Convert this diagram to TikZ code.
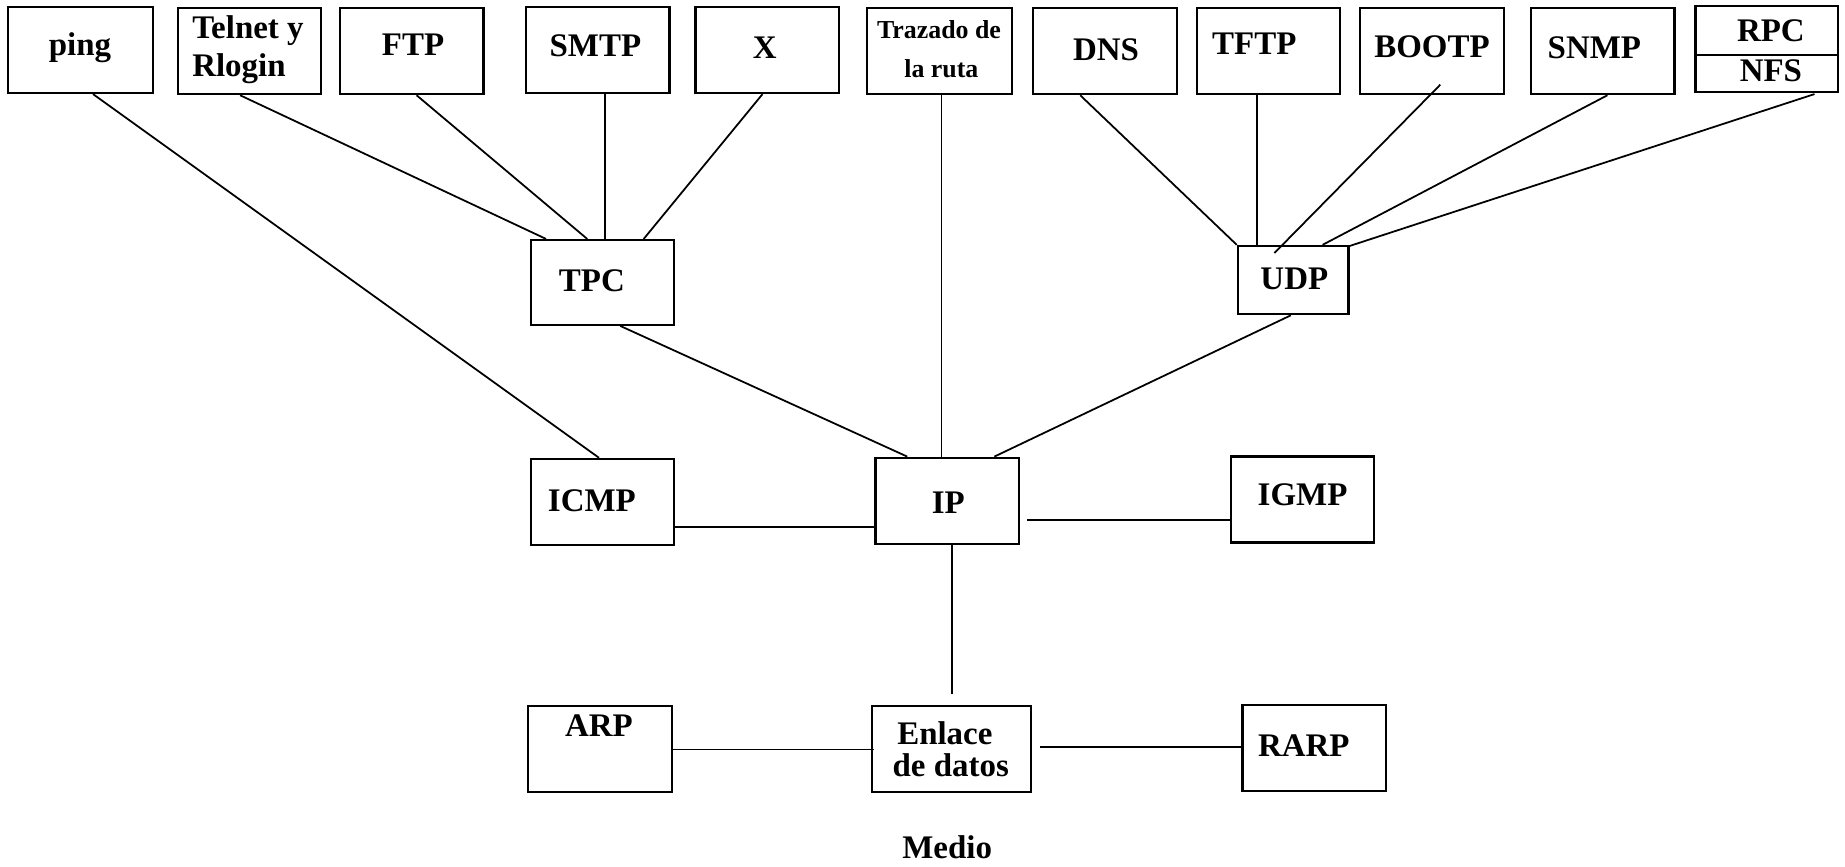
\documentclass[tikz,border=0pt]{standalone}
\usepackage{fontspec}
\setmainfont{Liberation Serif}
\usetikzlibrary{fit,calc}
\begin{document}
\begin{tikzpicture}[x=0.5pt,y=-0.5pt,
  box/.style={draw,line width=0.95pt,inner sep=0pt},
  lbl/.style={anchor=base,inner sep=0pt,font=\fontsize{14}{16}\selectfont\bfseries},
  small/.style={anchor=base,inner sep=0pt,font=\fontsize{11}{13}\selectfont\bfseries},
  conn/.style={line width=0.75pt}]
\useasboundingbox (0,0) rectangle (1568,736);
% boxes
\node[box,fit={(7,6)(130,79)}] (ping) {};
\node[box,fit={(151,7)(273,80)}] (telnet) {};
\node[box,fit={(289,7)(411,80)}] (ftp) {};
\node[box,fit={(447,6)(569,79)}] (smtp) {};
\node[box,fit={(591,6)(713,79)}] (x) {};
\node[box,fit={(737,7)(860,80)}] (traz) {};
\node[box,fit={(878,7)(1000,80)}] (dns) {};
\node[box,fit={(1017,7)(1139,80)}] (tftp) {};
\node[box,fit={(1156,7)(1278,80)}] (bootp) {};
\node[box,fit={(1301,7)(1423,80)}] (snmp) {};
\node[box,fit={(1441,5)(1562,78)}] (rpc) {};
\node[box,fit={(451,204)(573,276)}] (tpc) {};
\node[box,fit={(1052,209)(1146,267)}] (udp) {};
\node[box,fit={(451,390)(573,463)}] (icmp) {};
\node[box,fit={(744,389)(866,462)}] (ip) {};
\node[box,fit={(1046,388)(1168,461)}] (igmp) {};
\node[box,fit={(449,600)(571,673)}] (arp) {};
\node[box,fit={(741,600)(876,673)}] (enl) {};
\node[box,fit={(1056,599)(1178,672)}] (rarp) {};
\draw[box] ($(rpc.north west)+(0,43)$) -- ($(rpc.north east)+(0,43)$);
% labels
\node[lbl] (tping) at (68,47) {ping};
\node[lbl,anchor=base west] (ttel1) at (163,33) {Telnet y};
\node[lbl,anchor=base west] (ttel2) at (163,65) {Rlogin};
\node[lbl] (tftp1) at (351,47) {FTP};
\node[lbl] (tsmtp) at (506,48) {SMTP};
\node[lbl] (tx) at (650,50) {X};
\node[small] (ttraz1) at (798,33) {Trazado de};
\node[small] (ttraz2) at (800,66) {la ruta};
\node[lbl] (tdns) at (940,51) {DNS};
\node[lbl] (ttftp) at (1066,46) {TFTP};
\node[lbl] (tbootp) at (1217,49) {BOOTP};
\node[lbl] (tsnmp) at (1355,50) {SNMP};
\node[lbl] (trpc) at (1505,35) {RPC};
\node[lbl] (tnfs) at (1505,69) {NFS};
\node[lbl] (ttpc) at (503,248) {TPC};
\node[lbl] (tudp) at (1100,246) {UDP};
\node[lbl] (ticmp) at (503,435) {ICMP};
\node[lbl] (tip) at (806,436) {IP};
\node[lbl] (tigmp) at (1107,430) {IGMP};
\node[lbl] (tarp) at (509,626) {ARP};
\node[lbl] (tenl1) at (803,633) {Enlace};
\node[lbl] (tenl2) at (808,660) {de datos};
\node[lbl] (trarp) at (1108,643) {RARP};
\node[lbl] (medio) at (805,730) {Medio};
% connectors
\draw[conn] ($(ping.south west)+(73,0)$) -- ($(icmp.north west)+(59,0)$);
\draw[conn] ($(telnet.south west)+(54,0)$) -- ($(tpc.north west)+(14,0)$);
\draw[conn] ($(ftp.south west)+(66,0)$) -- ($(tpc.north west)+(49,0)$);
\draw[conn] ($(smtp.south west)+(68,0)$) -- ($(tpc.north west)+(64,0)$);
\draw[conn] ($(x.south west)+(58,0)$) -- ($(tpc.north west)+(97,0)$);
\draw[conn] ($(traz.south west)+(64,0)$) -- ($(ip.north west)+(57,0)$);
\draw[conn] ($(dns.south west)+(41,0)$) -- (udp.north west);
\draw[conn] ($(tftp.south west)+(52,0)$) -- ($(udp.north west)+(17,0)$);
\draw[conn] ($(bootp.south west)+(69,-9)$) -- ($(udp.north west)+(32,7)$);
\draw[conn] ($(snmp.south west)+(66,0)$) -- ($(udp.north west)+(73,0)$);
\draw[conn] ($(rpc.south west)+(102,1)$) -- ($(udp.north east)+(0,1)$);
\draw[conn] ($(tpc.south west)+(77,0)$) -- ($(ip.north west)+(28,0)$);
\draw[conn] ($(udp.south west)+(46,0)$) -- ($(ip.north west)+(102,0)$);
\draw[conn] ($(icmp.south east)+(0,-16)$) -- ($(ip.south west)+(0,-15)$);
\draw[conn] ($(ip.south east)+(6,-21)$) -- ($(igmp.south west)+(0,-20)$);
\draw[conn] ($(ip.south west)+(66,0)$) -- ($(enl.north west)+(69,-9)$);
\draw[conn] ($(arp.south east)+(0,-37)$) -- ($(enl.south west)+(3,-37)$);
\draw[conn] ($(enl.south east)+(7,-39)$) -- ($(rarp.south west)+(0,-38)$);
\end{tikzpicture}
\end{document}
